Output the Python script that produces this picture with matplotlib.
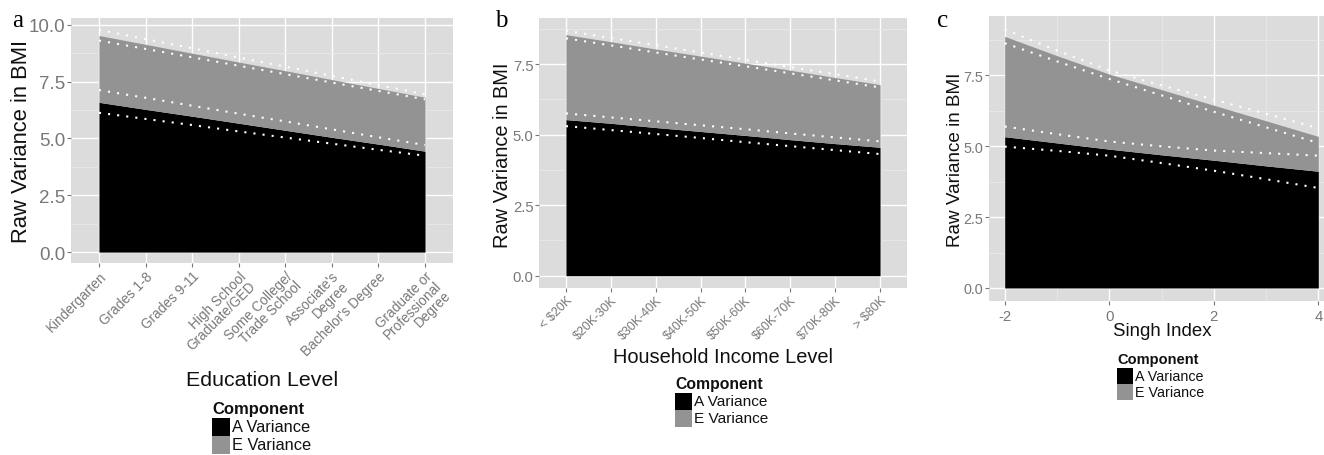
import numpy as np
import matplotlib
matplotlib.use("Agg")
import matplotlib.pyplot as plt
from matplotlib.patches import Rectangle

plt.rcParams['font.family'] = ['Liberation Sans', 'DejaVu Sans']

W, H = 1324, 456

# ---- panel a: education ----
edu_levels = ["Kindergarten", "Grades 1-8", "Grades 9-11", "High School\nGraduate/GED",
              "Some College/\nTrade School", "Associate's\nDegree", "Bachelor's Degree",
              "Graduate or\nProfessional\nDegree"]
edu_a = [6.59, 6.28, 5.98, 5.67, 5.36, 5.05, 4.75, 4.44]
edu_a_hi = [7.13, 6.79, 6.44, 6.09, 5.75, 5.40, 5.05, 4.71]
edu_a_lo = [6.13, 5.86, 5.59, 5.31, 5.04, 4.77, 4.50, 4.24]
edu_total = [9.53, 9.14, 8.75, 8.36, 7.98, 7.59, 7.20, 6.81]
edu_total_hi = [9.78, 9.37, 8.97, 8.56, 8.16, 7.75, 7.35, 6.94]
edu_total_lo = [9.31, 8.94, 8.57, 8.20, 7.83, 7.46, 7.09, 6.72]

# ---- panel b: household income ----
inc_levels = ["< $20K", "$20K-30K", "$30K-40K", "$40K-50K", "$50K-60K", "$60K-70K", "$70K-80K", "> $80K"]
inc_a = [5.53, 5.40, 5.25, 5.11, 4.97, 4.82, 4.68, 4.55]
inc_a_hi = [5.75, 5.61, 5.47, 5.33, 5.19, 5.04, 4.90, 4.76]
inc_a_lo = [5.30, 5.16, 5.02, 4.88, 4.73, 4.59, 4.45, 4.31]
inc_total = [8.54, 8.29, 8.03, 7.78, 7.53, 7.28, 7.02, 6.77]
inc_total_hi = [8.68, 8.42, 8.17, 7.91, 7.65, 7.39, 7.14, 6.88]
inc_total_lo = [8.41, 8.16, 7.91, 7.66, 7.42, 7.17, 6.92, 6.67]

# ---- panel c: Singh index ----
singh_x = [-2, -1, 0, 1, 2, 3, 4]
singh_a = [5.34, 5.12, 4.90, 4.70, 4.51, 4.31, 4.12]
singh_a_hi = [5.70, 5.43, 5.17, 5.00, 4.85, 4.76, 4.67]
singh_a_lo = [4.99, 4.84, 4.67, 4.41, 4.14, 3.84, 3.53]
singh_total = [8.88, 8.20, 7.55, 7.00, 6.45, 5.90, 5.35]
singh_total_hi = [9.13, 8.38, 7.68, 7.15, 6.65, 6.15, 5.64]
singh_total_lo = [8.64, 8.00, 7.38, 6.80, 6.22, 5.67, 5.12]
singh_ticks = [-2, 0, 2, 4]

y_ticks = [0, 2.5, 5, 7.5, 10]
components = ["A Variance", "E Variance"]
A_COL, E_COL = "#000000", "#939393"
BG, TICKC = "#dcdcdc", "#787878"

fig = plt.figure(figsize=(W / 100, H / 100), dpi=100)


def add_panel(left, right, top, bottom):
    return fig.add_axes([left / W, 1 - bottom / H, (right - left) / W, (bottom - top) / H])


def style(ax, ytick_fs):
    ax.set_facecolor(BG)
    for s in ax.spines.values():
        s.set_visible(False)
    ax.set_axisbelow(True)
    ax.grid(True, which='major', color='white', lw=1.0)
    ax.grid(True, which='minor', color='#e8e8e8', lw=0.6)
    ax.tick_params(which='major', length=3, width=0.8, color=TICKC, labelcolor=TICKC, pad=1)
    ax.tick_params(axis='y', labelsize=ytick_fs)
    ax.tick_params(which='minor', length=0)


def draw(ax, x, a, a_hi, a_lo, tot, tot_hi, tot_lo):
    ax.fill_between(x, 0, a, color=A_COL, lw=0, zorder=2)
    ax.fill_between(x, a, tot, color=E_COL, lw=0, zorder=2)
    for series in (a_hi, a_lo, tot_hi, tot_lo):
        ax.plot(x, series, color='white', lw=1.5, ls=(0, (1, 3.4)), dash_capstyle='butt', zorder=3)


def legend_block(x, base, fs, key):
    fig.text(x / W, 1 - base / H, "Component", fontsize=fs, fontweight='bold', color='#111111')
    top = base + 5
    for i, (lab, col) in enumerate(zip(components, [A_COL, E_COL])):
        y0 = top + i * key
        fig.add_artist(Rectangle((x / W, 1 - (y0 + key) / H), key / W, key / H,
                                 transform=fig.transFigure, color=col, lw=0))
        fig.text((x + key + 2) / W, 1 - (y0 + key / 2) / H, lab, fontsize=fs * 0.98,
                 va='center', color='#111111')


# panel a
ax1 = add_panel(71, 453, 19, 264)
x1 = np.arange(len(edu_levels))
draw(ax1, x1, edu_a, edu_a_hi, edu_a_lo, edu_total, edu_total_hi, edu_total_lo)
style(ax1, 13.5)
ax1.set_xlim(-0.6, len(edu_levels) - 0.4)
ax1.set_ylim(-0.48, 10.3)
ax1.set_yticks(y_ticks)
ax1.set_yticklabels([f"{v:.1f}" for v in y_ticks])
ax1.set_yticks([1.25, 3.75, 6.25, 8.75], minor=True)
ax1.set_xticks(x1)
ax1.set_xticklabels(edu_levels, rotation=45, ha='right', va='top', rotation_mode='anchor',
                    fontsize=9.8, linespacing=0.95, multialignment='right')

# panel b
ax2 = add_panel(539, 907, 19, 289)
x2 = np.arange(len(inc_levels))
draw(ax2, x2, inc_a, inc_a_hi, inc_a_lo, inc_total, inc_total_hi, inc_total_lo)
style(ax2, 10.7)
ax2.set_xlim(-0.6, len(inc_levels) - 0.4)
ax2.set_ylim(-0.435, 9.13)
ax2.set_yticks(y_ticks[:4])
ax2.set_yticklabels([f"{v:.1f}" for v in y_ticks[:4]])
ax2.set_yticks([1.25, 3.75, 6.25, 8.75], minor=True)
ax2.set_xticks(x2)
ax2.set_xticklabels(inc_levels, rotation=45, ha='right', va='top', rotation_mode='anchor', fontsize=9)

# panel c
ax3 = add_panel(989, 1334, 17, 302)
draw(ax3, singh_x, singh_a, singh_a_hi, singh_a_lo, singh_total, singh_total_hi, singh_total_lo)
style(ax3, 10.4)
ax3.set_xlim(-2.3, 4.3)
ax3.set_ylim(-0.46, 9.6)
ax3.set_yticks(y_ticks[:4])
ax3.set_yticklabels([f"{v:.1f}" for v in y_ticks[:4]])
ax3.set_yticks([1.25, 3.75, 6.25, 8.75], minor=True)
ax3.set_xticks(singh_ticks)
ax3.set_xticklabels([str(v) for v in singh_ticks], fontsize=10.8)
ax3.set_xticks([-1, 1, 3], minor=True)
ax3.tick_params(axis='x', pad=2.5)

# axis titles
fig.text(22 / W, 1 - 141 / H, "Raw Variance in BMI", rotation=90, fontsize=15.8, ha='center', va='center', color='#111111')
fig.text(503 / W, 1 - 155 / H, "Raw Variance in BMI", rotation=90, fontsize=14.4, ha='center', va='center', color='#111111')
fig.text(955 / W, 1 - 160 / H, "Raw Variance in BMI", rotation=90, fontsize=13.6, ha='center', va='center', color='#111111')
fig.text(262 / W, 1 - 386 / H, "Education Level", fontsize=15.4, ha='center', va='baseline', color='#111111')
fig.text(723 / W, 1 - 363 / H, "Household Income Level", fontsize=14.4, ha='center', va='baseline', color='#111111')
fig.text(1162 / W, 1 - 336.5 / H, "Singh Index", fontsize=13.4, ha='center', va='baseline', color='#111111')

# legends
legend_block(212, 414, 12, 18)
legend_block(675, 389, 11.3, 17)
legend_block(1117, 364, 10.5, 16)

# panel letters
for letter, lx in zip("abc", [12, 495, 937]):
    fig.text(lx / W, 1 - 27 / H, letter, fontsize=18, family='Liberation Serif', va='baseline')

fig.savefig("out.png", dpi=100)
